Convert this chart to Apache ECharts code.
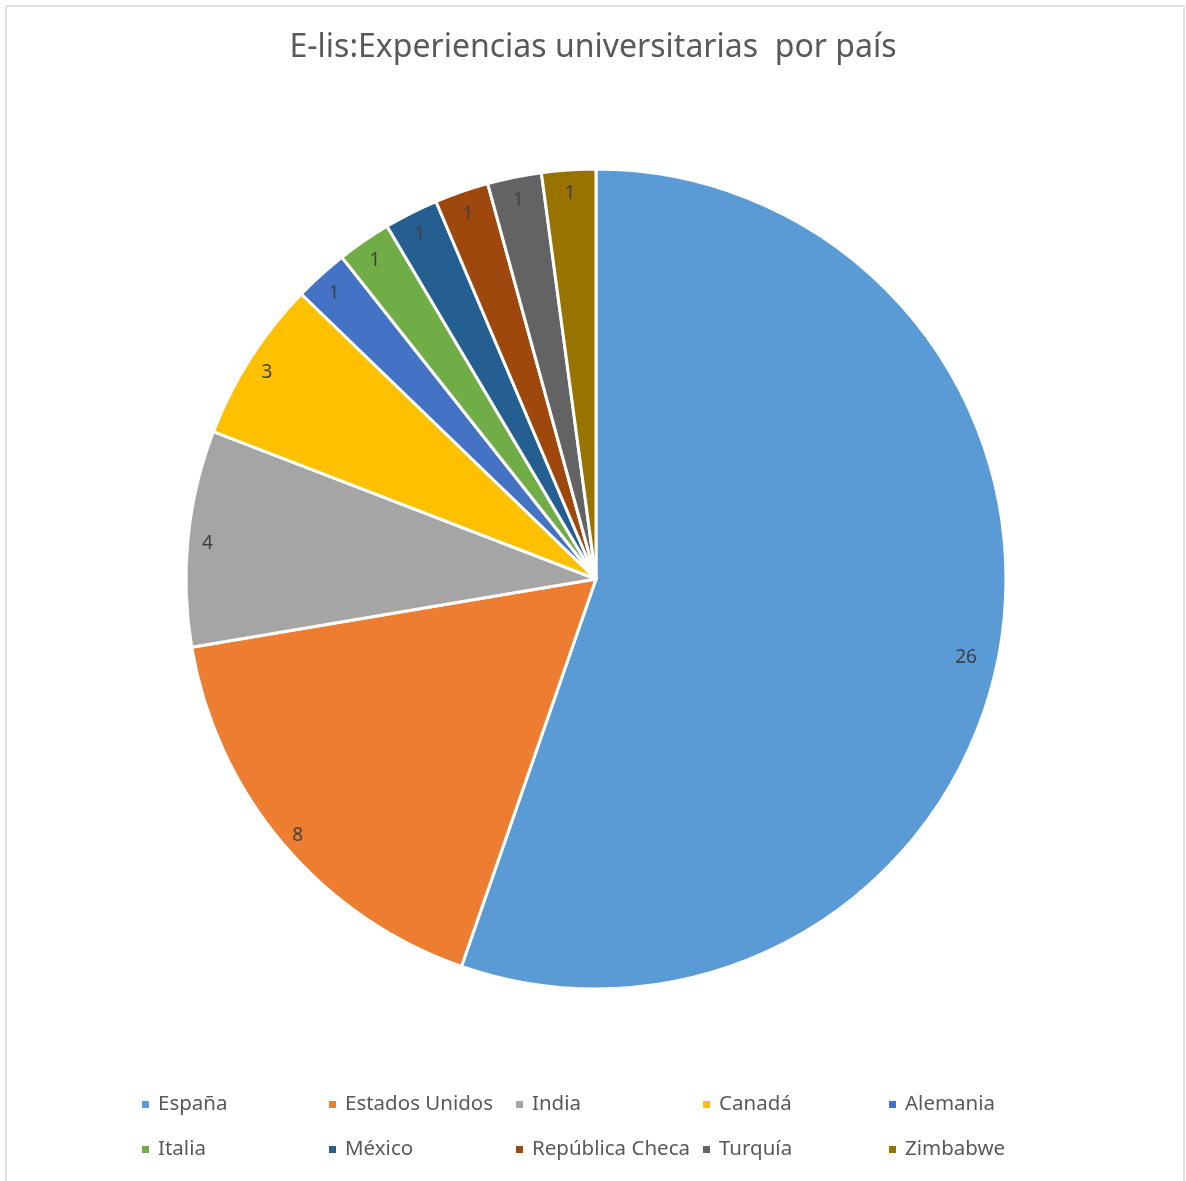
<!DOCTYPE html>
<html><head><meta charset="utf-8">
<script src="https://cdn.jsdelivr.net/npm/echarts@6/dist/echarts.min.js"></script>
<style>html,body{margin:0;padding:0;background:#fff}#c{width:1186px;height:1181px}</style>
</head><body><div id="c"></div>
<script>
const titleText = 'E-lis:Experiencias universitarias  por país';
const countries = ['España','Estados Unidos','India','Canadá','Alemania','Italia','México','República Checa','Turquía','Zimbabwe'];
const counts = [26,8,4,3,1,1,1,1,1,1];
const colors = ['#5B9BD5','#ED7D31','#A5A5A5','#FFC000','#4472C4','#70AD47','#255E91','#9E480E','#636363','#997300'];

const chart = echarts.init(document.getElementById('c'));
const data = countries.map((n,i)=>({name:n,value:counts[i],itemStyle:{color:colors[i]}}));
const colX = [140,327,514,701,887];
const rowY = [1094,1139];
const legends = countries.map((n,i)=>({
  data:[n], left: colX[i%5], top: rowY[Math.floor(i/5)],
  icon:'rect', itemWidth:9, itemHeight:9, padding:0,
  textStyle:{fontFamily:'Noto Sans', fontSize:20.5, color:'#595959', padding:[0,0,0,3]}
}));
chart.setOption({
  animation:false,
  title:{text:titleText,left:'center',top:27,textStyle:{fontFamily:'Noto Sans',fontSize:32,fontWeight:'normal',color:'#595959'}},
  graphic:[{type:'rect',shape:{x:6,y:6,width:1178,height:1190},style:{fill:'none',stroke:'#D9D9D9',lineWidth:1.5},silent:true}],
  legend: legends,
  series:[
    {type:'pie',center:[596,579],radius:[0,410],startAngle:90,clockwise:true,
     data:data,label:{show:false},labelLine:{show:false},
     itemStyle:{borderColor:'#fff',borderWidth:3}},
    {type:'pie',center:[596,579],radius:[365,410],startAngle:90,clockwise:true,silent:true,
     data:countries.map((n,i)=>i===0?({name:n,value:counts[i],label:{offset:[-15,14]}}):({name:n,value:counts[i]})),
     itemStyle:{color:'rgba(0,0,0,0)'},
     label:{show:true,position:'inside',formatter:'{c}',offset:[0,4],fontFamily:'Noto Sans',fontSize:19,color:'#404040'},
     labelLine:{show:false}}
  ]
});
</script></body></html>
